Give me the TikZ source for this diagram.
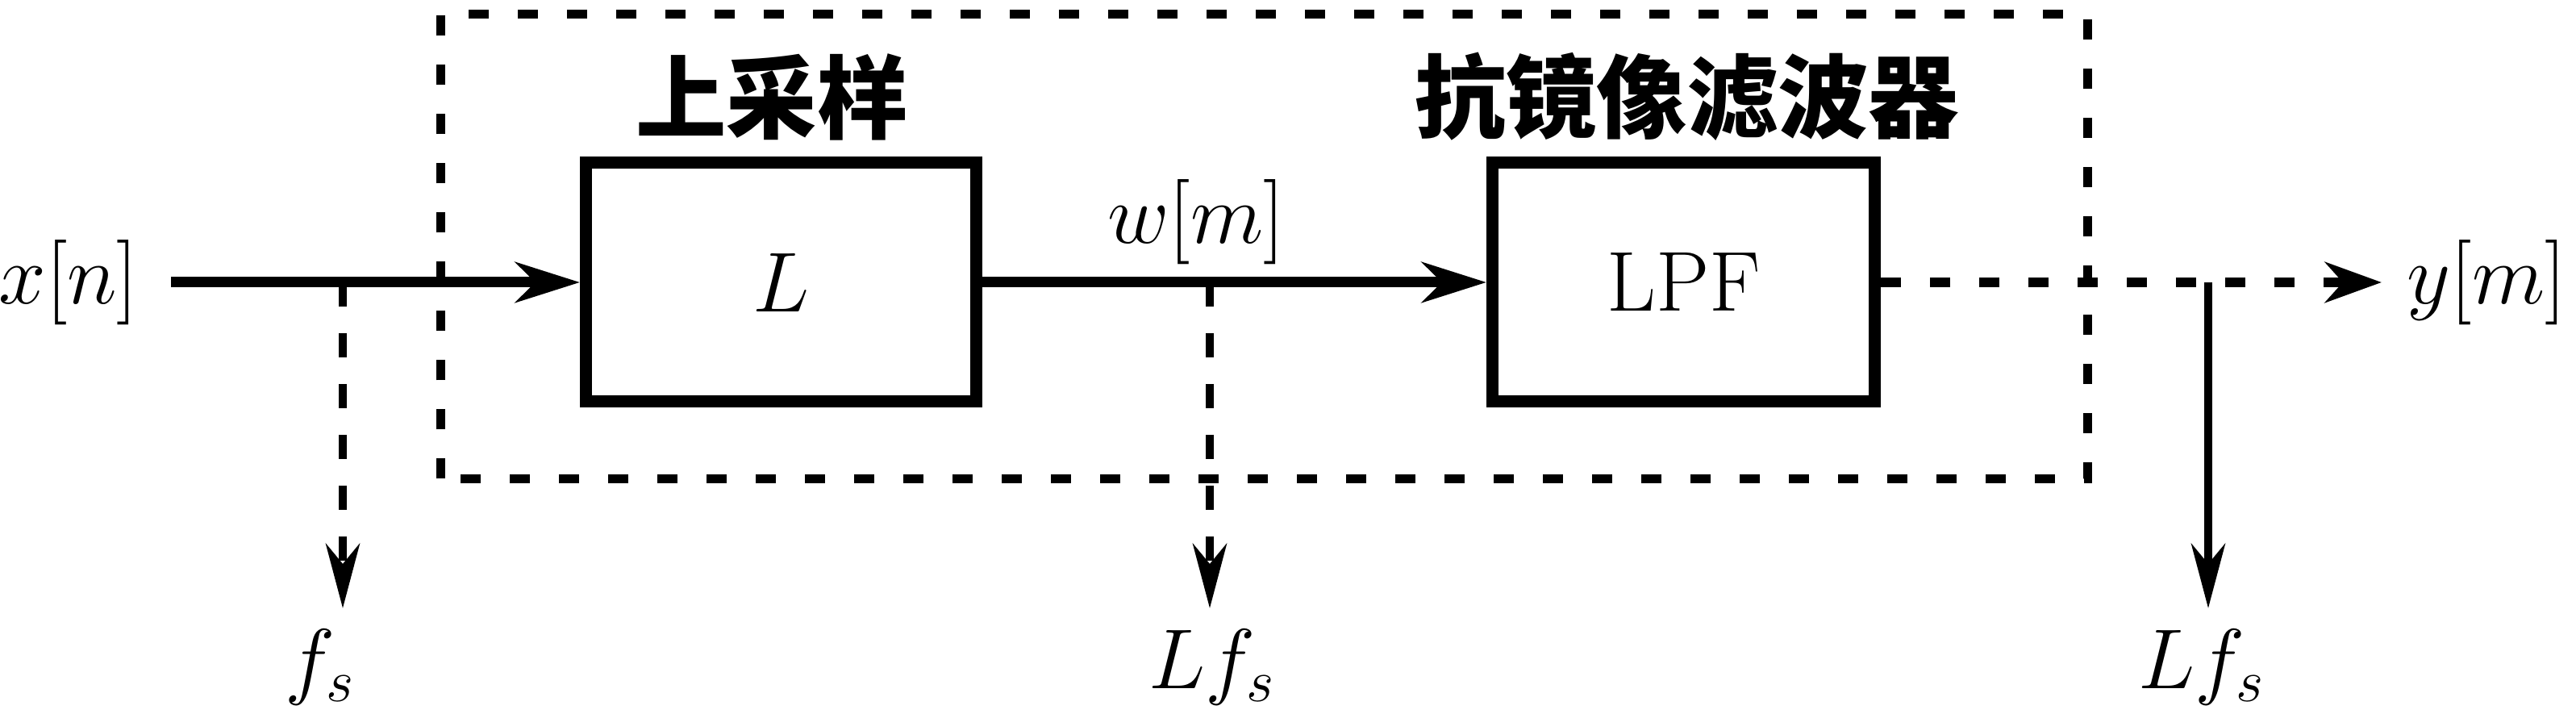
\RequirePackage{fix-cm}
\documentclass[tikz,border=0pt]{standalone}
\usepackage{fontspec}
\newfontfamily\cjk{Noto Sans CJK SC}
\usetikzlibrary{arrows.meta}
\tikzset{
  lbl/.style={inner sep=0pt, font=\fontsize{30}{36}\selectfont},
  cjklbl/.style={inner sep=0pt, font=\fontsize{32}{38}\selectfont\cjk\bfseries},
  blk/.style={draw, line width=0.15cm, minimum height=2.96cm, inner sep=0pt, font=\fontsize{30}{36}\selectfont},
  sig/.style={line width=0.13cm, -{Stealth[length=0.8cm,width=0.5cm,inset=0.25cm]}},
  sigdash/.style={line width=0.12cm, -{Stealth[length=0.7cm,width=0.5cm,inset=0.22cm]}, dash pattern=on 0.25cm off 0.36cm},
  brsolid/.style={line width=0.10cm, -{Stealth[length=0.8cm,width=0.42cm,inset=0.25cm]}},
  brdash/.style={brsolid, dash pattern=on 0.3cm off 0.33cm},
  dbox/.style={line width=0.11cm, dash pattern=on 0.25cm off 0.36cm}
}
\begin{document}
\begin{tikzpicture}
\useasboundingbox (0,0) rectangle (31.94,8.90);
% dashed enclosure
\draw[dbox] (5.465,2.965) rectangle (25.88,8.72);
% blocks
\node[blk, minimum width=4.84cm] (up) at (9.685,5.40) {$L$};
\node[blk, minimum width=4.74cm] (lpf) at (20.875,5.40) {LPF};
% titles
\node[cjklbl] (t1) at (9.57,7.70) {上采样};
\node[cjklbl] (t2) at (20.92,7.70) {抗镜像滤波器};
% signal labels
\node[lbl, anchor=east] (xn) at (1.72,5.40) {$x[n]$};
\node[lbl] (wm) at (14.83,6.15) {$w[m]$};
\node[lbl, anchor=west] (ym) at (29.84,5.40) {$y[m]$};
% rate labels
\node[lbl, anchor=north] (fs1) at (3.97,1.10) {$f_s$};
\node[lbl, anchor=north] (fs2) at (15.03,1.10) {$Lf_s$};
\node[lbl, anchor=north] (fs3) at (27.30,1.10) {$Lf_s$};
% branch points
\coordinate (b1) at (4.25,5.40);
\coordinate (b2) at (15.00,5.40);
\coordinate (b3) at (27.38,5.40);
% main path
\draw[sig, shorten <=0.4cm] (xn) -- (up);
\draw[sig] (up) -- (lpf);
\draw[sigdash, shorten >=0.31cm] (lpf) -- (ym);
% branches
\draw[brdash] (b1) -- ([yshift=0.26cm]b1 |- fs1.north);
\draw[brdash] (b2) -- ([yshift=0.26cm]b2 |- fs2.north);
\draw[brsolid] (b3) -- ([yshift=0.26cm]b3 |- fs3.north);
\end{tikzpicture}
\end{document}
